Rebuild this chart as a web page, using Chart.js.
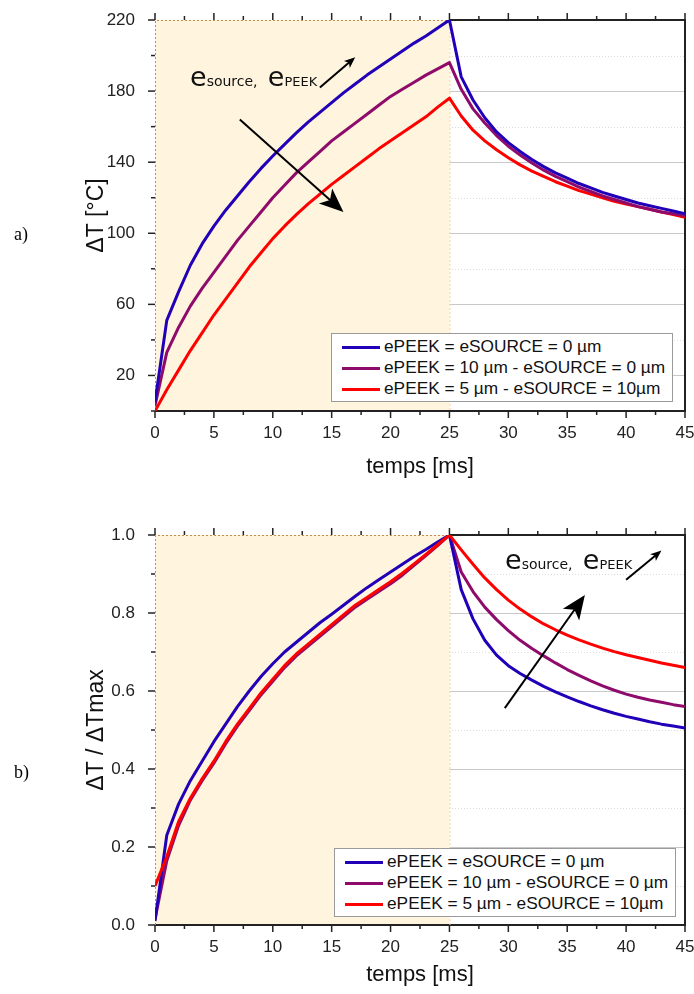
<!DOCTYPE html>
<html>
<head>
<meta charset="utf-8">
<script src="https://cdn.jsdelivr.net/npm/chart.js"></script>
<style>
  body { margin: 0; background: #fff; }
  #wrap { position: relative; width: 694px; height: 994px; font-family: "Liberation Sans", Arial, sans-serif; }
  .panel { position: absolute; left: 0; width: 694px; height: 497px; }
  .tag { position: absolute; font-family: "Liberation Serif", serif; font-size: 18px; color: #000; }
  .legend { position: absolute; background: #fff; border: 1px solid #9a9a9a; padding: 2px 7px 2px 10px; font-size: 17.3px; color: #111; }
  .legend div { height: 21px; line-height: 21px; white-space: nowrap; }
  .legend span.sw { display: inline-block; width: 38px; height: 3px; vertical-align: middle; margin-right: 4px; }
  .note { position: absolute; font-family: "DejaVu Sans", sans-serif; white-space: nowrap; color: #111; line-height: 30px; }
  .note .big { font-size: 27px; }
  .note .small { font-size: 14px; }
  .note .caps { font-size: 13px; }
</style>
</head>
<body>
<div id="wrap">
  <div class="panel" style="top:0"><canvas id="chartA" width="694" height="497"></canvas></div>
  <div class="panel" style="top:497px"><canvas id="chartB" width="694" height="497"></canvas></div>
  <div class="tag" style="left:14px;top:224px">a)</div>
  <div class="tag" style="left:14px;top:762px">b)</div>
  <div class="note" style="left:190px;top:62px"><span class="big">e</span><span class="small">source,</span>&nbsp;&nbsp;<span class="big">e</span><span class="caps">PEEK</span></div>
  <div class="note" style="left:505px;top:545px"><span class="big">e</span><span class="small">source,</span>&nbsp;&nbsp;<span class="big">e</span><span class="caps">PEEK</span></div>
  <div class="legend" id="legA" style="left:331px;top:333px"></div>
  <div class="legend" id="legB" style="left:334px;top:848px"></div>
</div>
<script>
// temps [ms]
const temps = [0,1,2,3,4,5,6,7,8,9,10,11,12,13,14,15,16,17,18,19,20,21,22,23,24,25,
               26,27,28,29,30,31,32,33,34,35,36,37,38,39,40,41,42,43,44,45];

const seriesNames = ['ePEEK = eSOURCE = 0 µm', 'ePEEK = 10 µm - eSOURCE = 0 µm', 'ePEEK = 5 µm - eSOURCE = 10µm'];
const seriesColors = ['#2100b8', '#8e0b6b', '#ff0000'];

// a) ΔT [°C]
const dtBlue = [5,51,67,82,94,104,113,121,129,136.5,143.5,150,156.5,162.5,168,173.5,179,184,189,193.5,198,202.5,207,211,215.5,220,
                188,175,165,157,151,146,141.5,137.5,134,131,128,125.5,123,121,119,117,115.5,114,112.5,111];
const dtPurple = [3,33,47,59,69,78,87,96,104,112,120,127,134,140,146,152,157,162,167,172,177,181,185,189,192.5,196,
                  181,170,162,155,149,144,139.5,135.5,132,129,126,123.5,121,119,117,115,113.5,112,111,110];
const dtRed = [0,12,23,34,44,54,63,72,81,89,97,104,110.5,116.5,122,127.5,132.5,137.5,142.5,147.5,152,156.5,161,165.5,171,176,
               166,158,152,147,142.5,138.5,135,132,129,126.5,124,122,120,118,116.5,115,113.5,112,110.5,109];

// b) ΔT / ΔTmax
const normBlue = [0.01,0.23,0.31,0.37,0.42,0.47,0.515,0.56,0.60,0.637,0.67,0.70,0.725,0.75,0.775,0.797,0.82,0.843,0.865,0.885,0.905,0.925,0.945,0.963,0.982,1.0,
                  0.86,0.785,0.73,0.692,0.665,0.645,0.628,0.612,0.598,0.585,0.573,0.562,0.552,0.543,0.535,0.528,0.521,0.515,0.51,0.505];
const normPurple = [0.015,0.165,0.255,0.32,0.37,0.415,0.465,0.51,0.55,0.59,0.625,0.66,0.69,0.715,0.74,0.765,0.79,0.815,0.835,0.855,0.875,0.897,0.922,0.947,0.973,1.0,
                    0.905,0.855,0.815,0.783,0.755,0.73,0.709,0.69,0.672,0.655,0.64,0.626,0.613,0.602,0.592,0.584,0.577,0.571,0.565,0.56];
const normRed = [0.10,0.175,0.265,0.325,0.375,0.42,0.47,0.515,0.555,0.595,0.63,0.665,0.695,0.72,0.745,0.77,0.795,0.82,0.84,0.86,0.88,0.902,0.926,0.95,0.975,1.0,
                 0.962,0.925,0.89,0.86,0.833,0.81,0.79,0.772,0.757,0.743,0.731,0.72,0.71,0.701,0.693,0.686,0.679,0.672,0.666,0.66];

// ticks
const xMajor = [0,5,10,15,20,25,30,35,40,45];
const xMinor = [2.5,7.5,12.5,17.5,22.5,27.5,32.5,37.5,42.5];
const yMajorA = [20,60,100,140,180,220];
const yMinorA = [0,40,80,120,160,200];
const yMajorB = [0,0.2,0.4,0.6,0.8,1.0];
const yMinorB = [0.1,0.3,0.5,0.7,0.9];
const pulseEnd = 25;

// grid, shaded pulse, frame and tick marks
const framePlugin = {
  id: 'frame',
  beforeDatasetsDraw(chart, args, o) {
    const {ctx, chartArea: a, scales: {x, y}} = chart;
    ctx.save();
    ctx.lineWidth = 1;
    ctx.strokeStyle = '#dcdcdc';
    ctx.setLineDash([1, 2]);
    o.yMinor.forEach(v => {
      const py = Math.round(y.getPixelForValue(v)) + 0.5;
      ctx.beginPath(); ctx.moveTo(a.left, py); ctx.lineTo(a.right, py); ctx.stroke();
    });
    ctx.setLineDash([]);
    ctx.strokeStyle = '#c8c8c8';
    o.yMajor.forEach(v => {
      const py = Math.round(y.getPixelForValue(v)) + 0.5;
      ctx.beginPath(); ctx.moveTo(a.left, py); ctx.lineTo(a.right, py); ctx.stroke();
    });
    // pulse zone
    const xs = x.getPixelForValue(pulseEnd);
    ctx.fillStyle = '#fff4dd';
    ctx.fillRect(a.left, a.top, xs - a.left, a.bottom - a.top);
    // frame
    ctx.strokeStyle = '#222';
    ctx.lineWidth = 2;
    ctx.beginPath();
    ctx.moveTo(xs, a.top); ctx.lineTo(a.right, a.top); ctx.lineTo(a.right, a.bottom); ctx.lineTo(a.left, a.bottom);
    ctx.stroke();
    ctx.lineWidth = 1;
    ctx.setLineDash([2, 2]);
    ctx.strokeStyle = '#c98a4a';
    ctx.beginPath();
    ctx.moveTo(a.left + 0.5, a.bottom); ctx.lineTo(a.left + 0.5, a.top + 0.5); ctx.lineTo(xs, a.top + 0.5);
    ctx.stroke();
    ctx.strokeStyle = '#ffcf99';
    ctx.beginPath(); ctx.moveTo(xs + 0.5, a.top); ctx.lineTo(xs + 0.5, a.bottom); ctx.stroke();
    ctx.setLineDash([]);
    // tick marks
    ctx.strokeStyle = '#222';
    ctx.lineWidth = 1.5;
    const tx = (list, len) => list.forEach(v => {
      const px = x.getPixelForValue(v);
      ctx.beginPath(); ctx.moveTo(px, a.bottom); ctx.lineTo(px, a.bottom + len); ctx.stroke();
      ctx.beginPath(); ctx.moveTo(px, a.top); ctx.lineTo(px, a.top - len); ctx.stroke();
    });
    const ty = (list, len) => list.forEach(v => {
      const py = y.getPixelForValue(v);
      ctx.beginPath(); ctx.moveTo(a.left, py); ctx.lineTo(a.left - len, py); ctx.stroke();
    });
    tx(xMajor, 7); tx(xMinor, 4);
    ty(o.yMajor, 7); ty(o.yMinor, 4);
    ctx.restore();
  },
  afterDatasetsDraw(chart, args, o) {
    const {ctx, scales: {x, y}} = chart;
    const arrow = (p, head, width) => {
      const x0 = x.getPixelForValue(p[0]), y0 = y.getPixelForValue(p[1]);
      const x1 = x.getPixelForValue(p[2]), y1 = y.getPixelForValue(p[3]);
      const ang = Math.atan2(y1 - y0, x1 - x0);
      ctx.save();
      ctx.strokeStyle = '#000'; ctx.fillStyle = '#000'; ctx.lineWidth = 2;
      ctx.beginPath(); ctx.moveTo(x0, y0);
      ctx.lineTo(x1 - Math.cos(ang) * head * 0.7, y1 - Math.sin(ang) * head * 0.7); ctx.stroke();
      ctx.translate(x1, y1); ctx.rotate(ang);
      ctx.beginPath(); ctx.moveTo(0, 0); ctx.lineTo(-head, -width / 2); ctx.lineTo(-head * 0.75, 0); ctx.lineTo(-head, width / 2);
      ctx.closePath(); ctx.fill();
      ctx.restore();
    };
    arrow(o.smallArrow, 11, 9);
    arrow(o.bigArrow, 24, 20);
  }
};

function makeChart(id, data, yOpts) {
  const datasets = data.map((d, i) => ({
    label: seriesNames[i],
    data: d,
    borderColor: seriesColors[i],
    backgroundColor: seriesColors[i],
    borderWidth: 3,
    borderJoinStyle: 'round',
    pointRadius: 0,
    tension: 0,
    order: yOpts.order[i]
  }));
  return new Chart(document.getElementById(id), {
    type: 'line',
    data: { labels: temps, datasets: datasets },
    plugins: [framePlugin],
    options: {
      responsive: false,
      animation: false,
      layout: { padding: { top: yOpts.padTop, right: 9, left: 0, bottom: 0 } },
      plugins: {
        legend: { display: false },
        tooltip: { enabled: false },
        frame: yOpts.frame
      },
      scales: {
        x: {
          type: 'linear', min: 0, max: 45,
          afterBuildTicks: s => { s.ticks = xMajor.map(v => ({ value: v })); },
          afterFit: s => { s.height = yOpts.xHeight; s.paddingLeft = 0; s.paddingRight = 0; },
          grid: { display: false },
          border: { display: false },
          ticks: { padding: 4, color: '#222', font: { size: 17, family: 'Liberation Sans' }, maxRotation: 0 },
          title: { display: true, text: 'temps [ms]', color: '#111',
                   font: { size: 22, family: 'Liberation Sans' }, padding: { top: 0, bottom: yOpts.xTitlePad } }
        },
        y: {
          min: yOpts.min, max: yOpts.max,
          afterBuildTicks: s => { s.ticks = yOpts.frame.yMajor.map(v => ({ value: v })); },
          afterFit: s => { s.width = 155; s.paddingTop = 0; s.paddingBottom = 0; },
          grid: { display: false },
          border: { display: false },
          ticks: { padding: 12, color: '#222', font: { size: 17, family: 'Liberation Sans' }, callback: yOpts.fmt },
          title: { display: true, text: yOpts.title, color: '#111',
                   font: { size: 23, family: 'Liberation Sans' }, padding: { top: 83, bottom: 0 } }
        }
      }
    }
  });
}

makeChart('chartA', [dtBlue, dtPurple, dtRed], {
  min: 0, max: 220, padTop: 20, xHeight: 86, xTitlePad: 17, title: 'ΔT [°C]',
  fmt: v => String(v), order: [0, 1, 2],
  frame: { yMajor: yMajorA, yMinor: yMinorA, smallArrow: [14.0, 182, 17.0, 199], bigArrow: [7.2, 164, 16.0, 112] }
});

makeChart('chartB', [normBlue, normPurple, normRed], {
  min: 0, max: 1, padTop: 38, xHeight: 69, xTitlePad: 6, title: 'ΔT / ΔTmax',
  fmt: v => v.toFixed(1), order: [0, 1, -1],
  frame: { yMajor: yMajorB, yMinor: yMinorB, smallArrow: [40.0, 0.885, 43.0, 0.96], bigArrow: [29.7, 0.556, 36.5, 0.846] }
});

// legends
['legA', 'legB'].forEach(id => {
  const box = document.getElementById(id);
  seriesNames.forEach((name, i) => {
    const row = document.createElement('div');
    const sw = document.createElement('span');
    sw.className = 'sw';
    sw.style.background = seriesColors[i];
    row.appendChild(sw);
    row.appendChild(document.createTextNode(name));
    box.appendChild(row);
  });
});
</script>
</body>
</html>
